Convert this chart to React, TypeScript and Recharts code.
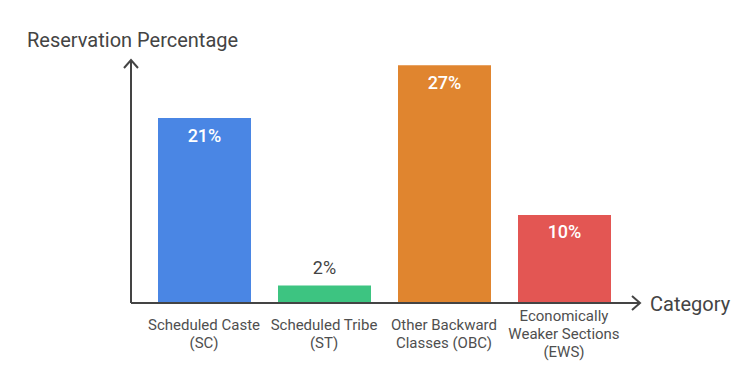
import React from 'react';
import { BarChart, Bar, XAxis, YAxis, Cell, LabelList } from 'recharts';

const categories = ['Scheduled Caste\n(SC)', 'Scheduled Tribe\n(ST)', 'Other Backward\nClasses (OBC)', 'Economically\nWeaker Sections\n(EWS)'];
const values = [21, 2, 27, 10];
const barColors = ['#4A86E4', '#3DC481', '#E0852F', '#E35653'];
const yTitle = 'Reservation Percentage';
const xTitle = 'Category';

const data = categories.map((c, i) => ({ name: c, value: values[i] }));

const FONT = 'Roboto, "Noto Sans", sans-serif';
const AXIS = '#444444';

const CatTick = (props: any) => {
  const { x, y, payload } = props;
  const lines: string[] = String(payload.value).split('\n');
  const lh = 18;
  const cy = y + 23;
  const start = cy - ((lines.length - 1) * lh) / 2;
  return (
    <text x={x} y={start} textAnchor="middle" fontFamily={FONT} fontSize={15} fill="#4f4f4f" dominantBaseline="central">
      {lines.map((l, i) => (
        <tspan key={i} x={x} y={start + i * lh} dominantBaseline="central">{l}</tspan>
      ))}
    </text>
  );
};

const YLabel = (props: any) => {
  const vb = props.viewBox || { x: 0, y: 60, width: 131, height: 243 };
  const ax = vb.x + vb.width;
  const ay = vb.y;
  return (
    <g>
      <path d={`M${ax - 7},${ay + 8} L${ax},${ay} L${ax + 7},${ay + 8}`} stroke={AXIS} strokeWidth={2} fill="none" />
      <text x={27} y={ay - 20} fontFamily={FONT} fontSize={20} fill="#444444" dominantBaseline="central">{yTitle}</text>
    </g>
  );
};

const XLabel = (props: any) => {
  const vb = props.viewBox || { x: 131, y: 303, width: 509, height: 69 };
  const ax = vb.x + vb.width;
  const ay = vb.y;
  return (
    <g>
      <path d={`M${ax - 8},${ay - 7} L${ax},${ay} L${ax - 8},${ay + 7}`} stroke={AXIS} strokeWidth={2} fill="none" />
      <text x={ax + 10} y={ay + 1} fontFamily={FONT} fontSize={20} fill="#444444" dominantBaseline="central">{xTitle}</text>
    </g>
  );
};

const ValueLabel = (props: any) => {
  const { x, y, width, height, value } = props;
  const inside = height > 40;
  return (
    <text
      x={x + width / 2}
      y={inside ? y + 17 : y - 18}
      textAnchor="middle"
      dominantBaseline="central"
      fontFamily={FONT}
      fontSize={18}
      fontWeight={inside ? 500 : 400}
      fill={inside ? '#FFFFFF' : '#444444'}
    >
      {`${value}%`}
    </text>
  );
};

export default function App() {
  return (
    <div style={{ position: 'absolute', left: 0, top: 0, width: 756, height: 372, background: '#fff' }}>
      <BarChart width={756} height={372} data={data} margin={{ top: 60, right: 116, bottom: 0, left: 0 }}>
        <YAxis
          type="number"
          domain={[0, 27.6]}
          width={131}
          tick={false}
          tickLine={false}
          axisLine={{ stroke: AXIS, strokeWidth: 2 }}
          label={<YLabel />}
        />
        <XAxis
          dataKey="name"
          height={69}
          interval={0}
          tickLine={false}
          axisLine={{ stroke: AXIS, strokeWidth: 2 }}
          padding={{ left: 13, right: 16 }}
          tick={<CatTick />}
          label={<XLabel />}
        />
        <Bar dataKey="value" barSize={93} isAnimationActive={false}>
          {data.map((d, i) => (
            <Cell key={i} fill={barColors[i]} />
          ))}
          <LabelList dataKey="value" content={<ValueLabel />} />
        </Bar>
      </BarChart>
    </div>
  );
}
